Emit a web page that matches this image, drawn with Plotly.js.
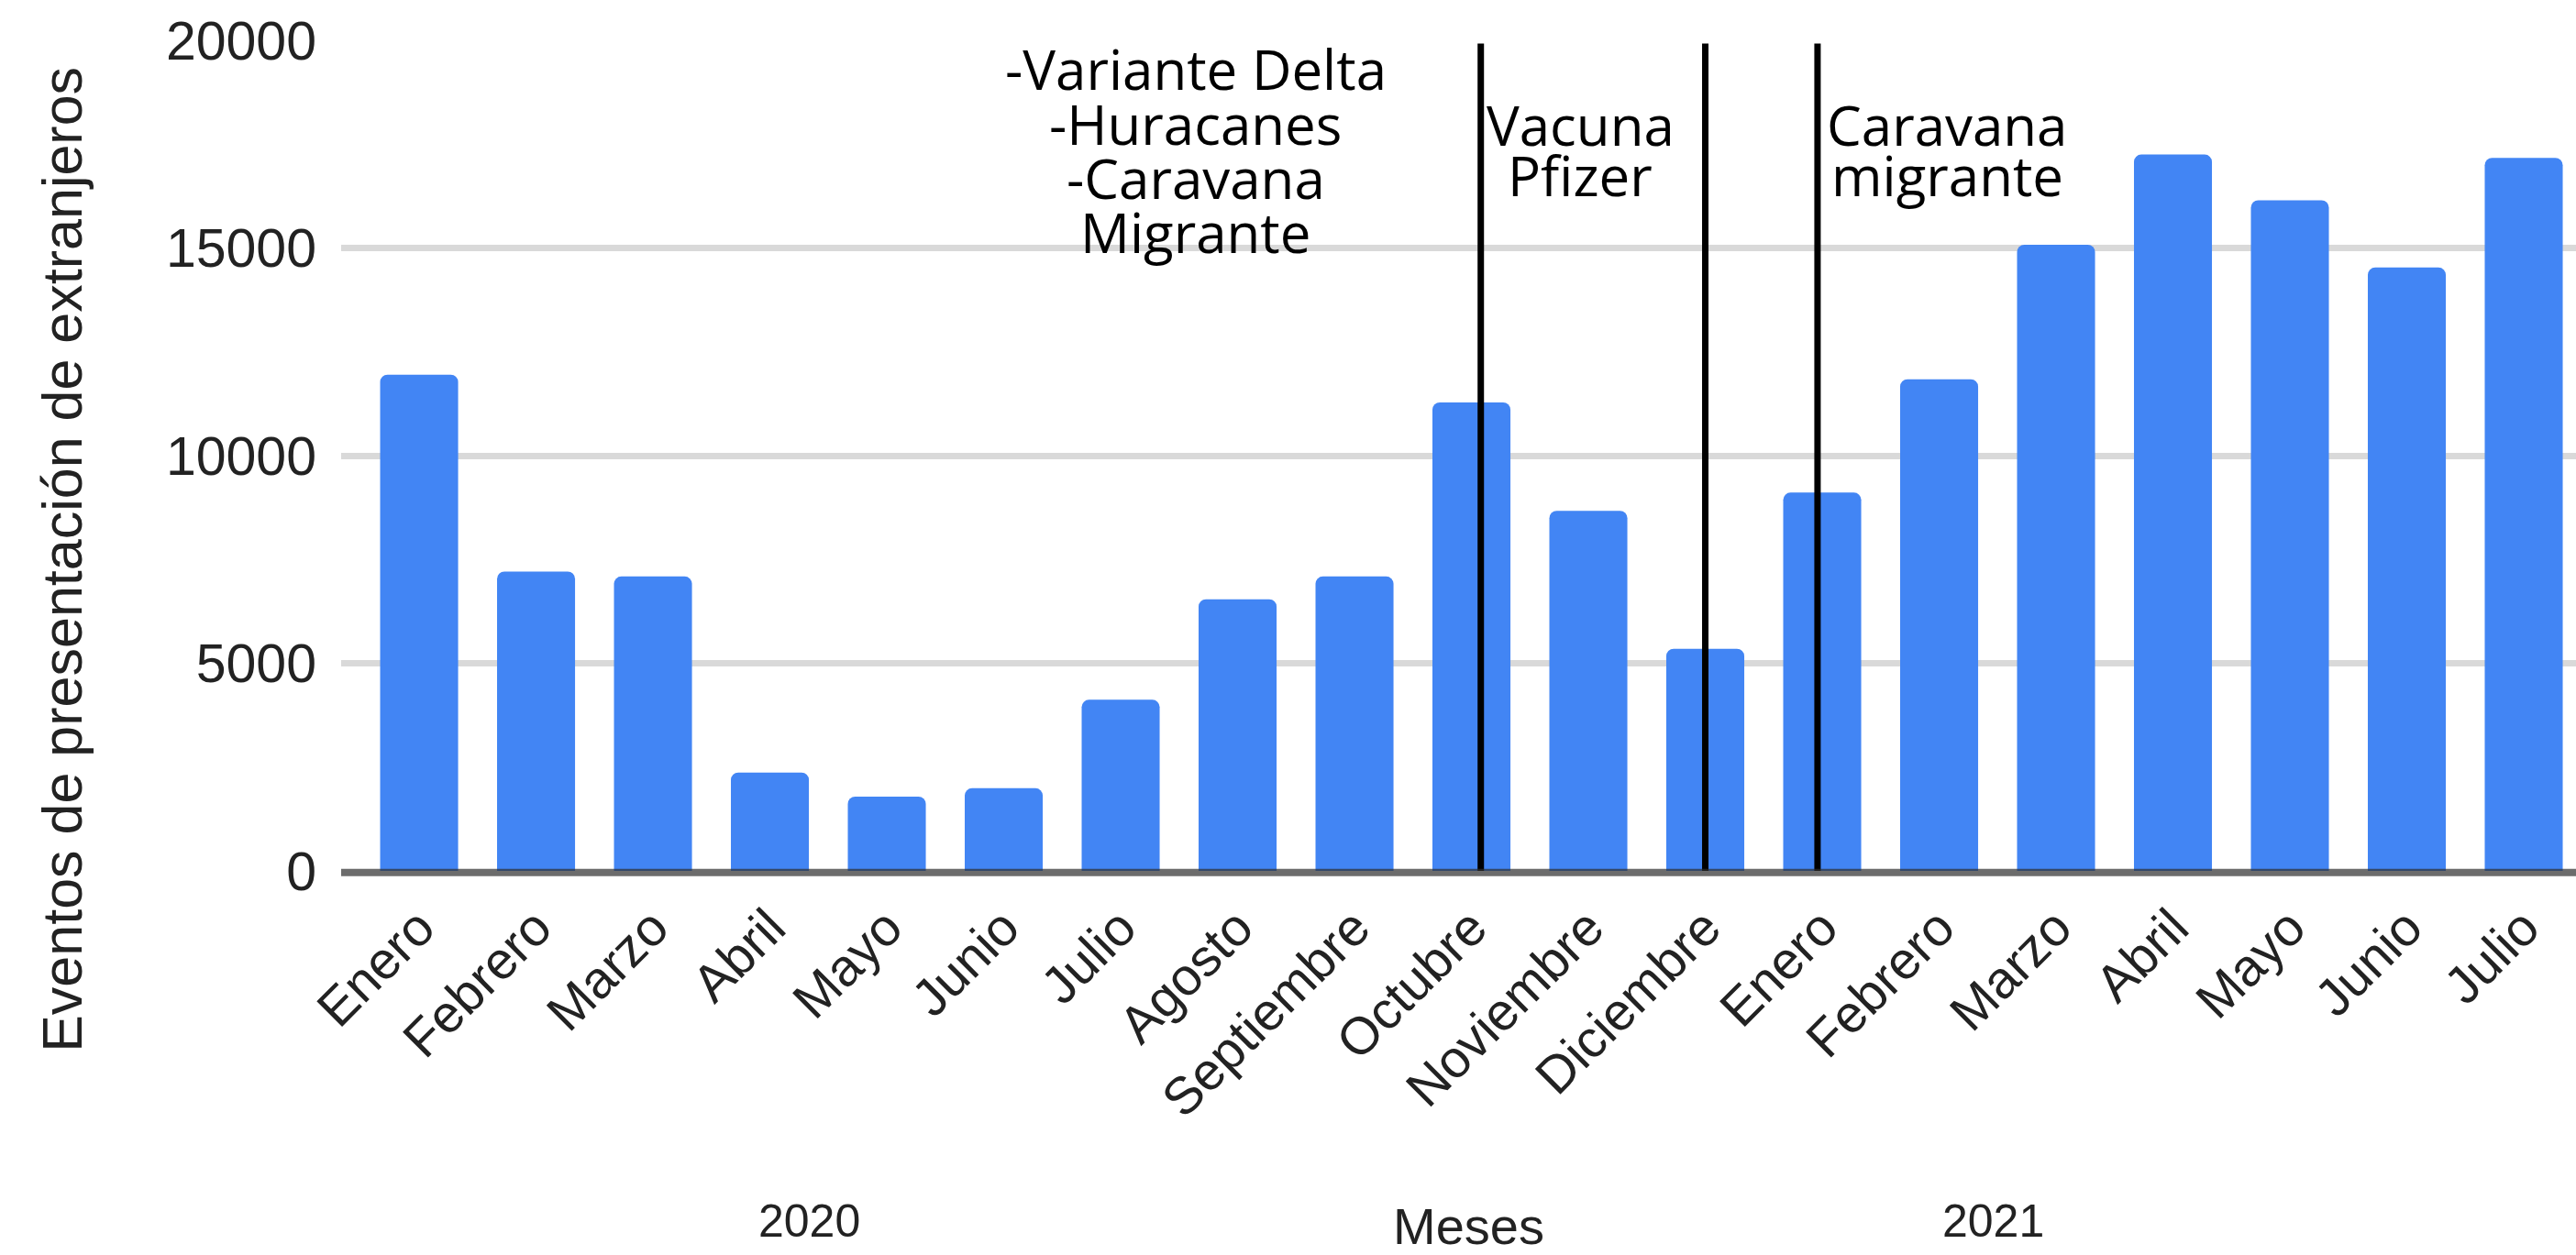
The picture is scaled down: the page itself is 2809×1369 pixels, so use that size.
<!DOCTYPE html>
<html>
<head>
<meta charset="utf-8">
<script src="https://cdn.plot.ly/plotly-3.0.1.min.js"></script>
<style>
html,body{margin:0;padding:0;background:#ffffff;}
#chart{width:2809px;height:1369px;}
</style>
</head>
<body>
<div id="chart"></div>
<script>
// ---- data ----
const months = ["Enero","Febrero","Marzo","Abril","Mayo","Junio","Julio","Agosto","Septiembre","Octubre","Noviembre","Diciembre",
                "Enero","Febrero","Marzo","Abril","Mayo","Junio","Julio"];
const years = ["2020","2021"];
const values = [11950, 7210, 7090, 2370, 1790, 1990, 4120, 6540, 7090, 11280, 8670, 5350,
                9110, 11840, 15080, 17250, 16150, 14530, 17170];
const yTickValues = [0, 5000, 10000, 15000, 20000];
const yTickLabels = ["0", "5000", "10000", "15000", "20000"];
const eventTextA = ["-Variante Delta", "-Huracanes", "-Caravana", "Migrante"];
const eventTextB = ["Vacuna", "Pfizer"];
const eventTextC = ["Caravana", "migrante"];
const yAxisTitle = "Eventos de presentación de extranjeros";
const xAxisTitle = "Meses";

const xIdx = months.map((m, i) => i);

const fam = "Liberation Sans, Arial, sans-serif";
const yTickFont = {family: fam, size: 59, color: "#222222"};
const xTickFont = {family: fam, size: 57, color: "#222222"};
const noteFont = {family: "Open Sans, Noto Sans, sans-serif", size: 60, color: "#000000"};

const trace = {
  type: "bar",
  x: xIdx,
  y: values,
  width: 0.667,
  marker: {color: "#4285f4", cornerradius: 8, line: {width: 0}},
  hoverinfo: "x+y",
  showlegend: false
};

function noteAnn(text, x, y) {
  return {text: text, x: x, y: y, xref: "x", yref: "y", xanchor: "center", yanchor: "middle",
          showarrow: false, font: noteFont, borderpad: 0};
}

const annotations = [];
const yA = [19320, 18000, 16690, 15390];
eventTextA.forEach((t, i) => annotations.push(noteAnn(t, 6.64, yA[i])));
const yB = [17980, 16750];
eventTextB.forEach((t, i) => annotations.push(noteAnn(t, 9.93, yB[i])));
eventTextC.forEach((t, i) => annotations.push(noteAnn(t, 13.07, yB[i])));

annotations.push({text: years[0], x: 3.34, y: -0.4216, xref: "x", yref: "paper", xanchor: "center", yanchor: "middle",
                  showarrow: false, font: {family: fam, size: 50, color: "#222222"}});
annotations.push({text: years[1], x: 13.46, y: -0.4216, xref: "x", yref: "paper", xanchor: "center", yanchor: "middle",
                  showarrow: false, font: {family: fam, size: 50, color: "#222222"}});
annotations.push({text: xAxisTitle, x: 0.5047, y: -0.428, xref: "paper", yref: "paper", xanchor: "center", yanchor: "middle",
                  showarrow: false, font: {family: fam, size: 56, color: "#222222"}});
annotations.push({text: yAxisTitle, x: -0.1245, y: 0.375, xref: "paper", yref: "paper", xanchor: "center", yanchor: "middle",
                  textangle: -90, showarrow: false, font: {family: fam, size: 61, color: "#222222"}});

const lineStyle = {color: "#000000", width: 7};
const shapes = [9.08, 11.0, 11.96].map(xv => ({
  type: "line", xref: "x", yref: "y", x0: xv, x1: xv, y0: 0, y1: 19920, line: lineStyle, layer: "above"
}));
shapes.push({type: "line", xref: "paper", yref: "paper", x0: 0, x1: 1, y0: -0.002, y1: -0.002,
             line: {color: "rgba(45,45,45,0.7)", width: 8}, layer: "above"});

const layout = {
  width: 2809,
  height: 1369,
  margin: {l: 372, r: 0, t: 44, b: 419, pad: 0},
  paper_bgcolor: "#ffffff",
  plot_bgcolor: "#ffffff",
  bargap: 0.333,
  xaxis: {
    range: [-0.667, 18.447],
    tickmode: "array",
    tickvals: xIdx,
    ticktext: months,
    tickangle: -45,
    tickfont: xTickFont,
    showgrid: false,
    zeroline: false,
    showline: false,
    ticks: "",
    ticklabelstandoff: 16,
    fixedrange: true
  },
  yaxis: {
    range: [0, 20000],
    tickmode: "array",
    tickvals: yTickValues,
    ticktext: yTickLabels,
    tickfont: yTickFont,
    showgrid: true,
    gridcolor: "#d9d9d9",
    gridwidth: 7,
    zeroline: false,
    showline: false,
    ticks: "",
    ticklabelstandoff: 26,
    fixedrange: true
  },
  annotations: annotations,
  shapes: shapes,
  showlegend: false
};

Plotly.newPlot("chart", [trace], layout, {displayModeBar: false, staticPlot: true});
</script>
</body>
</html>
